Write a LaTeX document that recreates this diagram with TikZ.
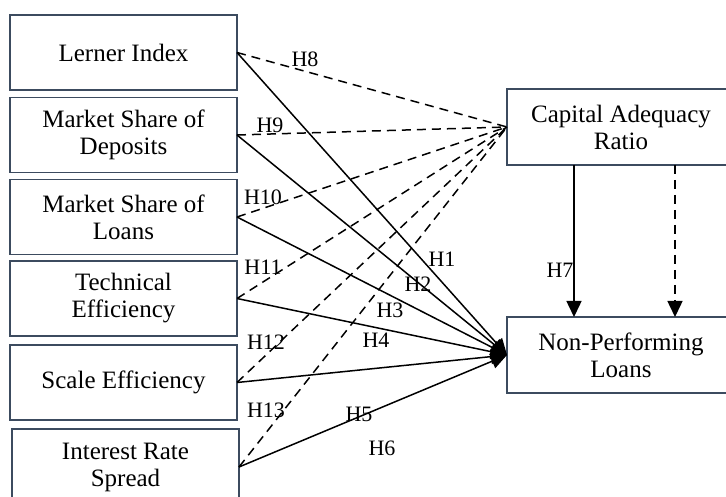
\documentclass[tikz,border=0pt]{standalone}
\usepackage{fontspec}
\setmainfont{Liberation Serif}
\usetikzlibrary{arrows.meta}
\definecolor{boxline}{RGB}{60,75,95}
\begin{document}
\begin{tikzpicture}[x=1pt,y=-1pt,
  box/.style={draw=boxline,line width=1.3pt,minimum width=227pt,minimum height=75pt,inner sep=0pt,outer sep=0pt,align=center,font=\fontsize{25}{27}\selectfont},
  lab/.style={inner sep=0pt,font=\fontsize{22}{24}\selectfont},
  sol/.style={line width=1.5pt,-{Triangle[length=16pt,width=15pt]}},
  dsh/.style={line width=1.5pt,dash pattern=on 9pt off 6pt},
  vdsh/.style={line width=1.5pt,dash pattern=on 9pt off 6pt,-{Triangle[length=16pt,width=15pt]}}
]
\useasboundingbox (0,0) rectangle (726,497);
\begin{scope}
\clip (0,0) rectangle (726,497);
\node[box] (li) at (123.5,52.5) {Lerner Index};
\node[box] (msd) at (123.5,135) {Market Share of\\Deposits};
\node[box] (msl) at (123.5,217) {Market Share of\\Loans};
\node[box] (te) at (123.5,298.5) {Technical\\Efficiency};
\node[box] (se) at (123.5,382.5) {Scale Efficiency};
\node[box,minimum height=76pt] (irs) at (125.5,467) {Interest Rate\\Spread};
\node[box,minimum width=228pt,minimum height=76pt] (car) at (621,127) {Capital Adequacy\\Ratio};
\node[box,minimum width=228pt,minimum height=76pt] (npl) at (621,355) {Non-Performing\\Loans};
\end{scope}
% dashed to CAR
\foreach \n in {li,msd,msl,te,se,irs} {\draw[dsh] (\n.east) -- (car.west);}
% solid to NPL
\foreach \n in {li,msd,msl,te,se,irs} {\draw[sol] (\n.east) -- (npl.west);}
% vertical arrows
\draw[sol] (car.south -| 574,0) -- (npl.north -| 574,0);
\draw[vdsh] (car.south -| 675,0) -- (npl.north -| 675,0);
% labels
\node[lab] (h8) at (305,59) {H8};
\node[lab] (h9) at (270,125) {H9};
\node[lab] (h10) at (263,197) {H10};
\node[lab] (h11) at (263,267) {H11};
\node[lab] (h12) at (266,342) {H12};
\node[lab] (h13) at (266,410) {H13};
\node[lab] (h1) at (442,259) {H1};
\node[lab] (h2) at (418,284) {H2};
\node[lab] (h3) at (390,310) {H3};
\node[lab] (h4) at (376,340) {H4};
\node[lab] (h5) at (359,414) {H5};
\node[lab] (h6) at (382,448) {H6};
\node[lab] (h7) at (560,270) {H7};
\end{tikzpicture}
\end{document}
